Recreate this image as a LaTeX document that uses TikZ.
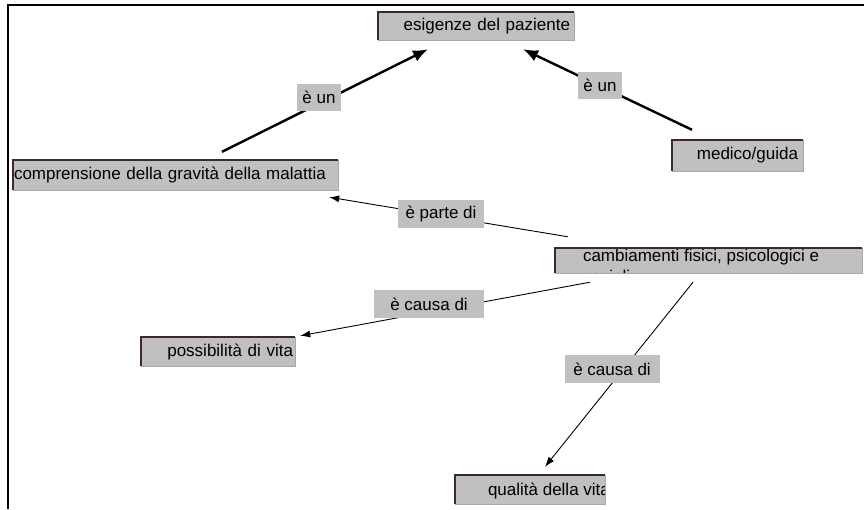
\documentclass[tikz,border=0pt]{standalone}
\usepackage{fontspec}
\setmainfont{Liberation Sans}
\usetikzlibrary{arrows.meta}
\definecolor{boxgray}{HTML}{C0C0C0}
\definecolor{edgedark}{HTML}{3C2A2A}
\definecolor{edgelight}{HTML}{B0A89C}
\tikzset{
  concept/.style={fill=boxgray, inner ysep=0pt, font=\fontsize{17}{20}\selectfont},
  linkword/.style={fill=boxgray, inner sep=0pt, minimum height=27pt, font=\fontsize{17}{20}\selectfont},
  thicklink/.style={line width=2.4pt, -{Latex[length=15pt,width=12pt]}},
  thinlink/.style={line width=0.9pt, -{Latex[length=10pt,width=7pt]}},
  frameline/.style={line width=1.6pt}
}

\begin{document}
\begin{tikzpicture}[x=1pt,y=-1pt]
		\useasboundingbox (0,0) rectangle (864,509);
		% page frame
		\draw[frameline] (8,509) -- (8,5) -- (864,5);

		% concepts
		\node[concept, text width=188pt, inner xsep=4pt, minimum height=28pt, align=right] (esig) at (476,26) {esigenze del paziente};
		\node[concept, text width=323pt, inner xsep=1pt, minimum height=30pt, align=left] (compr) at (175.5,175) {comprensione della gravità della malattia};
		\node[concept, text width=121pt, inner xsep=5pt, minimum height=31pt, align=right] (medico) at (737.5,155.5) {medico/guida};
		\node[concept, minimum width=307pt, minimum height=25pt, inner sep=0pt] (camb) at (708.5,260.5) {};
		\node[concept, text width=150pt, inner xsep=2pt, minimum height=29pt, align=right] (poss) at (218,351.5) {possibilità di vita};
		\node[concept, minimum width=150pt, minimum height=29pt, inner sep=0pt] (qual) at (530,489.5) {};

		% text cut off by its box
		\begin{scope}
			\clip (camb.north west) rectangle (camb.south east);
			\node[anchor=base west, inner sep=0pt, font=\fontsize{17}{20}\selectfont] (camb-l1) at ([shift={(28,14)}]camb.north west) {cambiamenti fisici, psicologici e};
			\node[anchor=base west, inner sep=0pt, font=\fontsize{17}{20}\selectfont] (camb-l2) at ([shift={(0,20.5)}]camb-l1.base west) {sociali};
		\end{scope}
		\begin{scope}
			\clip (qual.north west) rectangle (qual.south east);
			\node[anchor=base west, inner sep=0pt, font=\fontsize{17}{20}\selectfont] (qual-txt) at ([shift={(33,6)}]qual.west) {qualità della vita};
		\end{scope}

		% box edges
		\foreach \n in {esig,compr,medico,camb,poss,qual} {
			\draw[edgelight, line width=1pt] (\n.north east) -- (\n.south east) -- (\n.south west);
			\draw[edgedark, line width=1.5pt] (\n.south west) -- (\n.north west) -- (\n.north east);
		}

		% connectors
		\draw[thicklink] ([shift={(46.5,-8)}]compr.north) -- ([shift={(-48,9)}]esig.south);
		\draw[thicklink] ([shift={(-45.5,-10)}]medico.north) -- ([shift={(47,9)}]esig.south);
		\draw[thinlink] ([shift={(-140.5,-11)}]camb.north) -- ([shift={(-9,7)}]compr.south east);
		\draw[thinlink] ([shift={(-118.5,9)}]camb.south) -- ([shift={(5,-1)}]poss.north east);
		\draw[thinlink] ([shift={(-15.5,9)}]camb.south) -- ([shift={(15,-8)}]qual.north);

		% linking words
		\node[linkword, minimum width=44pt] (un1) at (319,97) {è un};
		\node[linkword, minimum width=44pt] (un2) at (600,85) {è un};
		\node[linkword, minimum width=86pt, minimum height=28pt] (parte) at (441,214) {è parte di};
		\node[linkword, minimum width=110pt, minimum height=28pt] (causa1) at (429,304) {è causa di};
		\node[linkword, minimum width=95pt, minimum height=28pt] (causa2) at (612,369) {è causa di};
\end{tikzpicture}
\end{document}
